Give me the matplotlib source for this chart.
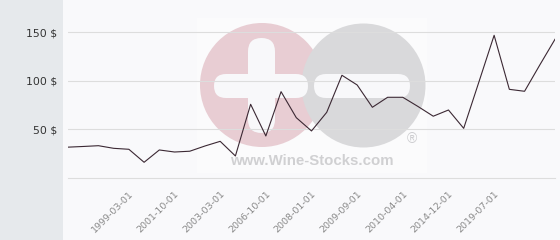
import matplotlib
matplotlib.use("Agg")
import matplotlib.pyplot as plt
from matplotlib.patches import Circle, FancyBboxPatch, Rectangle

# =========================
# DATA
# =========================

prices = [31.8, 32.5, 33.3, 30.6, 29.6, 16.2, 28.9, 26.8, 27.6, 33.0,
          37.8, 22.7, 76.0, 43.3, 89.0, 62.2, 48.5, 67.7, 105.9, 95.9,
          72.9, 83.2, 83.2, 73.7, 63.7, 70.1, 51.2, 99.0, 147.1, 91.4,
          89.4, 116.5, 143.0]
label_idx = [4, 7, 10, 13, 16, 19, 22, 25, 28]
labels = ["1999-03-01", "2001-10-01", "2003-03-01", "2006-10-01", "2008-01-01",
          "2009-09-01", "2010-04-01", "2014-12-01", "2019-07-01"]
yticks = [50, 100, 150]

# =========================
# FIGURE + BACKGROUND
# =========================

fig = plt.figure(figsize=(5.6, 2.4), dpi=100)
fig.patch.set_facecolor("#f9f9fb")

# pixel-space background axes for panel + watermark
bg = fig.add_axes([0, 0, 1, 1], zorder=0)
bg.set_xlim(0, 560)
bg.set_ylim(240, 0)
bg.axis("off")

bg.add_patch(Rectangle((0, 0), 63, 240, color="#e6e9ec", lw=0))
bg.add_patch(Rectangle((197, 18), 230, 155, color="white", alpha=0.35, lw=0))

# watermark
bg.add_patch(Circle((262, 85), 62, color="#e8cdd3", lw=0))
bg.add_patch(Circle((363.5, 85.5), 62, color="#d9d9db", lw=0))
for x0, y0, w, h in [(214, 74, 94, 24), (248, 38, 27, 95), (314, 74, 96, 24)]:
    r = min(w, h) / 2
    bg.add_patch(FancyBboxPatch((x0 + r, y0 + r), w - 2 * r, h - 2 * r,
                                boxstyle="round,pad=%g" % r, color="#f8f8fa", lw=0))
bg.text(312, 161, "www.Wine-Stocks.com", ha="center", va="center",
        fontsize=10.8, fontweight="bold", family="Liberation Sans", color="#d0d0d2")
bg.text(412, 139, "\u00ae", ha="center", va="center", fontsize=10,
        family="Liberation Sans", color="#cccccf")

# =========================
# CHART
# =========================

ax = fig.add_axes([68 / 560, 62 / 240, 487 / 560, 178 / 240], zorder=1)
ax.patch.set_alpha(0)

ax.plot(range(len(prices)), prices, color="#3b2833", lw=0.8, zorder=3)

ax.set_xlim(0, len(prices) - 1)
ax.set_ylim(0, 183.5)

ax.set_yticks(yticks)
ax.set_yticklabels(["%d $" % v for v in yticks])
ax.grid(axis="y", color="#dddddd", lw=0.8)
ax.axhline(0, color="#dddddd", lw=0.8, clip_on=False)
ax.tick_params(axis="y", length=0, pad=8, labelsize=7.8, labelcolor="#333333")

ax.set_xticks(label_idx)
ax.set_xticklabels(labels, rotation=45, ha="right", rotation_mode="anchor")
ax.tick_params(axis="x", length=0, pad=8, labelsize=6.8, labelcolor="#8a8a8a")

for s in ax.spines.values():
    s.set_visible(False)

plt.savefig("out.png", dpi=100)
